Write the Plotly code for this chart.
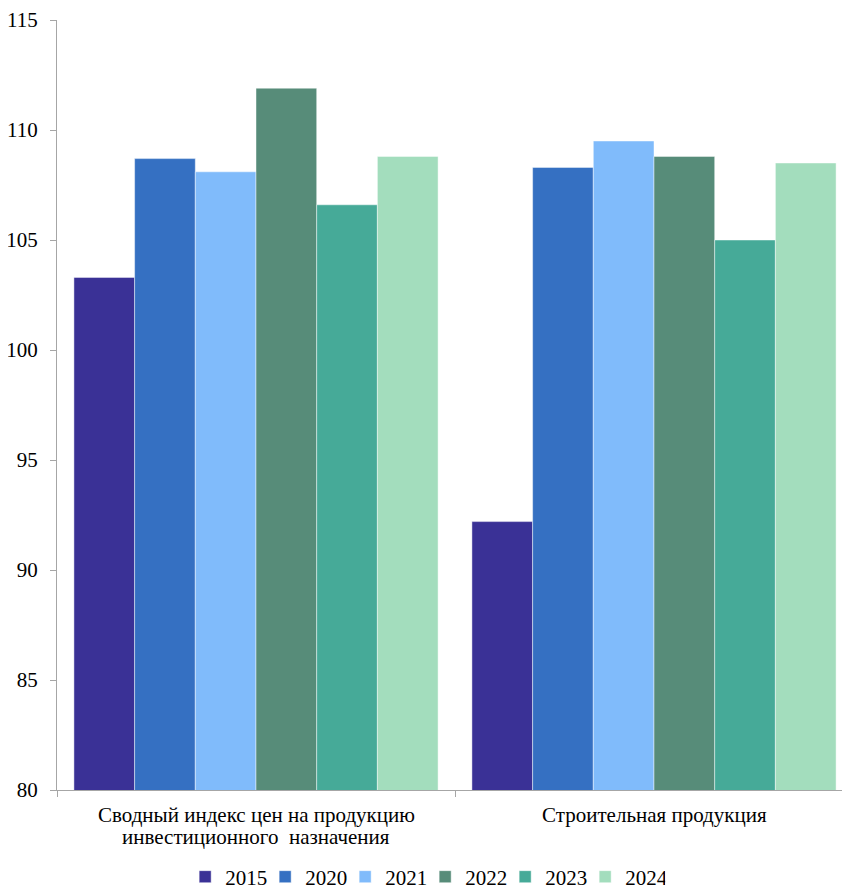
import plotly.graph_objects as go

categories = ["Сводный индекс цен на продукцию<br>инвестиционного  назначения", "Строительная продукция"]
years = ["2015", "2020", "2021", "2022", "2023", "2024"]
values = {
    "2015": [103.3, 92.2],
    "2020": [108.7, 108.3],
    "2021": [108.1, 109.5],
    "2022": [111.9, 108.8],
    "2023": [106.6, 105.0],
    "2024": [108.8, 108.5],
}
colors = ["#3A3196", "#3570C2", "#80BBFB", "#578C79", "#46AA98", "#A3DDBD"]
y_ticks = [80, 85, 90, 95, 100, 105, 110, 115]

fig = go.Figure()
for yr, c in zip(years, colors):
    fig.add_trace(go.Bar(
        name=yr, x=categories, y=values[yr],
        marker=dict(color=c, line=dict(color="rgba(255,255,255,0.45)", width=1)),
    ))

FAM = "Liberation Serif"
FS = 21
# category labels drawn as separate lines for tight line spacing
for cat in categories:
    for j, line in enumerate(cat.split("<br>")):
        fig.add_annotation(x=cat, xref="x", y=-0.0325 - j * 0.0286, yref="paper",
                           text=line, showarrow=False, yanchor="middle", xanchor="center",
                           font=dict(family=FAM, size=FS, color="#000000"))

fig.update_layout(
    width=850, height=889,
    barmode="group", bargap=0.085, bargroupgap=0,
    plot_bgcolor="white", paper_bgcolor="white",
    margin=dict(l=49, r=5, t=12, b=107, autoexpand=False),
    font=dict(family=FAM, size=FS, color="#000000"),
    showlegend=True,
    legend=dict(orientation="h", x=0.161, xanchor="left", y=-0.113, yanchor="middle",
                font=dict(family=FAM, size=FS, color="#000000"),
                itemwidth=30, entrywidth=35, entrywidthmode="pixels", traceorder="normal"),
    xaxis=dict(range=[-0.5, 1.5], showline=True, linecolor="#A6A6A6", linewidth=1,
               ticks="outside", tickson="boundaries", ticklen=6, tickcolor="#A6A6A6",
               showgrid=False, showticklabels=False),
    yaxis=dict(range=[80, 115], tickvals=y_ticks, showline=True, linecolor="#A6A6A6",
               linewidth=1, ticks="outside", ticklen=6, tickcolor="#A6A6A6",
               showgrid=False, zeroline=False, ticklabelstandoff=8,
               tickfont=dict(family=FAM, size=FS, color="#000000")),
)
fig.write_html("out.html")
